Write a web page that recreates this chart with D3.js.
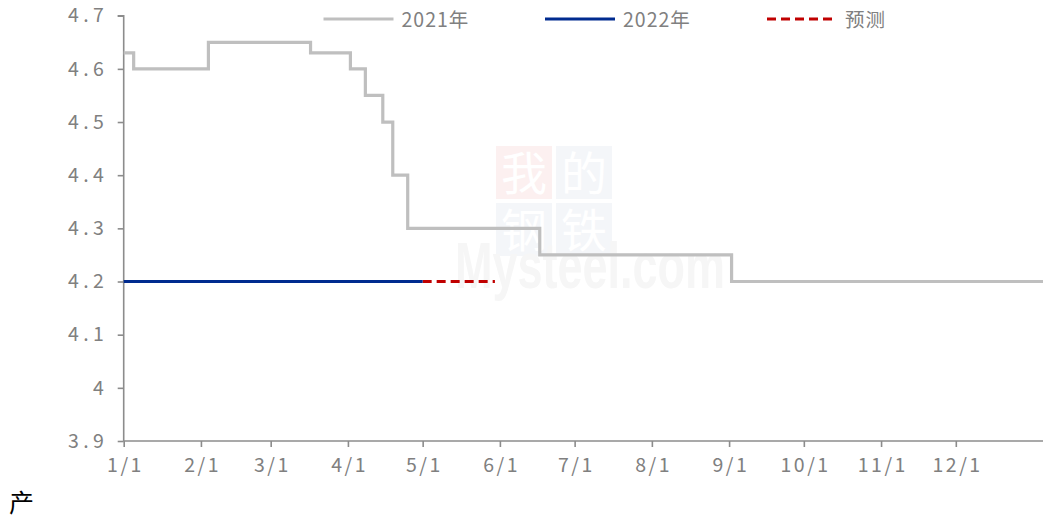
<!DOCTYPE html>
<html>
<head>
<meta charset="utf-8">
<script src="https://cdn.jsdelivr.net/npm/d3@7"></script>
<style>
  html, body { margin: 0; padding: 0; background: #fff; }
  svg { display: block; }
</style>
</head>
<body>
<svg id="chart" width="1044" height="521"></svg>
<script>
// ---- data (month-day, mapped onto one calendar year) ----
const dates2021 = ["01-01","01-05","02-04","03-17","04-02","04-08","04-15","04-19","04-25","06-17","09-02","12-31"];
const values2021 = [4.63, 4.60, 4.65, 4.63, 4.60, 4.55, 4.50, 4.40, 4.30, 4.25, 4.20, 4.20];
const dates2022 = ["01-01","05-01"];
const values2022 = [4.20, 4.20];
const datesForecast = ["05-01","05-30"];
const valuesForecast = [4.20, 4.20];
const xTickDates = ["01-01","02-01","03-01","04-01","05-01","06-01","07-01","08-01","09-01","10-01","11-01","12-01"];
const xTickLabels = ["1/1","2/1","3/1","4/1","5/1","6/1","7/1","8/1","9/1","10/1","11/1","12/1"];
const yTicks = [3.9, 4.0, 4.1, 4.2, 4.3, 4.4, 4.5, 4.6, 4.7];
const yTickLabels = ["3.9","4","4.1","4.2","4.3","4.4","4.5","4.6","4.7"];
const legendNames = ["2021年","2022年","预测"];
const footnote = "产";

(function () {
const parse = d3.timeParse("%Y-%m-%d");
const md = s => parse("2021-" + s);

const svg = d3.select("#chart");
const mLeft = 123.7, mRight = 1043, mTop = 15.7, mBottom = 441;
const axisColor = "#8c8c8c", textColor = "#808080";
const font = "'Noto Sans CJK SC', 'Noto Sans', sans-serif";
const fs = 19.5;

const x = d3.scaleTime().domain([md("01-01"), parse("2022-01-05")]).range([mLeft, mRight]);
const y = d3.scaleLinear().domain([3.9, 4.7]).range([mBottom, mTop]);

// ---- watermark ----
const wm = svg.append("g").attr("class", "watermark");
const boxes = [
  {c: "我", col: "#fcf0f0", i: 0, j: 0},
  {c: "的", col: "#f4f6f9", i: 1, j: 0},
  {c: "钢", col: "#f4f6f9", i: 0, j: 1},
  {c: "铁", col: "#f4f6f9", i: 1, j: 1}
];
boxes.forEach(b => {
  const bx = 496 + b.i * 60, by = 146 + b.j * 57;
  wm.append("rect").attr("x", bx).attr("y", by).attr("width", 56).attr("height", 53).attr("fill", b.col);
  wm.append("text").attr("x", bx + 28).attr("y", by + 44).attr("text-anchor", "middle")
    .attr("font-family", "'Noto Sans CJK SC', serif").attr("font-size", 46).attr("fill", "#ffffff").text(b.c);
});
wm.append("text").attr("x", 455).attr("y", 288).attr("font-family", "'Liberation Sans', 'Open Sans', sans-serif")
  .attr("font-size", 64).attr("font-weight", "bold").attr("fill", "#f6f6f6")
  .attr("textLength", 270).attr("lengthAdjust", "spacingAndGlyphs").text("Mysteel.com");

// ---- axes ----
const yLs = 4.3;
const yAxis = d3.axisLeft(y).tickValues(yTicks).tickSize(6).tickPadding(14)
  .tickFormat((d, i) => yTickLabels[i]);
const gy = svg.append("g").attr("transform", `translate(${mLeft},0)`).call(yAxis);
gy.select(".domain").attr("stroke", axisColor).attr("stroke-width", 1.6).attr("d", `M-6,${mTop}H0V${mBottom}`);
gy.selectAll(".tick line").attr("stroke", axisColor).attr("stroke-width", 1.6);
gy.selectAll(".tick text").attr("fill", textColor).attr("font-family", font).attr("font-size", fs)
  .attr("letter-spacing", yLs).attr("dx", yLs);

const xLs = 2.5;
const xAxis = d3.axisBottom(x).tickValues(xTickDates.map(md)).tickSize(6).tickPadding(11)
  .tickFormat((d, i) => xTickLabels[i]);
const gx = svg.append("g").attr("transform", `translate(0,${mBottom})`).call(xAxis);
gx.select(".domain").attr("stroke", axisColor).attr("stroke-width", 1.6).attr("d", `M${mLeft},0H${mRight}`);
gx.selectAll(".tick line").attr("stroke", axisColor).attr("stroke-width", 1.6);
gx.selectAll(".tick text").attr("fill", textColor).attr("font-family", font).attr("font-size", fs)
  .attr("letter-spacing", xLs).attr("dx", xLs / 2);

// ---- lines ----
const line = d3.line().x(d => x(d.date)).y(d => y(d.value)).curve(d3.curveStepAfter);
const s2021 = dates2021.map((d, i) => ({date: md(d), value: values2021[i]}));
s2021.push({date: x.domain()[1], value: values2021[values2021.length - 1]});
const s2022 = dates2022.map((d, i) => ({date: md(d), value: values2022[i]}));
const sF = datesForecast.map((d, i) => ({date: md(d), value: valuesForecast[i]}));

svg.append("path").datum(s2021).attr("d", line).attr("fill", "none")
  .attr("stroke", "#bfbfbf").attr("stroke-width", 3.2);
svg.append("path").datum(sF).attr("d", line).attr("fill", "none")
  .attr("stroke", "#c00000").attr("stroke-width", 3.2).attr("stroke-dasharray", "9,5");
svg.append("path").datum(s2022).attr("d", line).attr("fill", "none")
  .attr("stroke", "#002b8f").attr("stroke-width", 3.2);

// ---- legend ----
const legend = [
  {name: legendNames[0], color: "#bfbfbf", dash: null, x0: 323.5},
  {name: legendNames[1], color: "#002b8f", dash: null, x0: 545},
  {name: legendNames[2], color: "#c00000", dash: "9,5", x0: 767}
];
legend.forEach(l => {
  svg.append("line").attr("x1", l.x0).attr("x2", l.x0 + 70).attr("y1", 19).attr("y2", 19)
    .attr("stroke", l.color).attr("stroke-width", 3.2).attr("stroke-dasharray", l.dash);
  svg.append("text").attr("x", l.x0 + 78).attr("y", 27).attr("fill", textColor)
    .attr("font-family", font).attr("font-size", fs).attr("letter-spacing", 1).text(l.name);
});

// ---- footnote ----
svg.append("text").attr("x", 9).attr("y", 512).attr("fill", "#000")
  .attr("font-family", "'Noto Sans CJK SC', serif").attr("font-size", 25).text(footnote);
})();
</script>
</body>
</html>
